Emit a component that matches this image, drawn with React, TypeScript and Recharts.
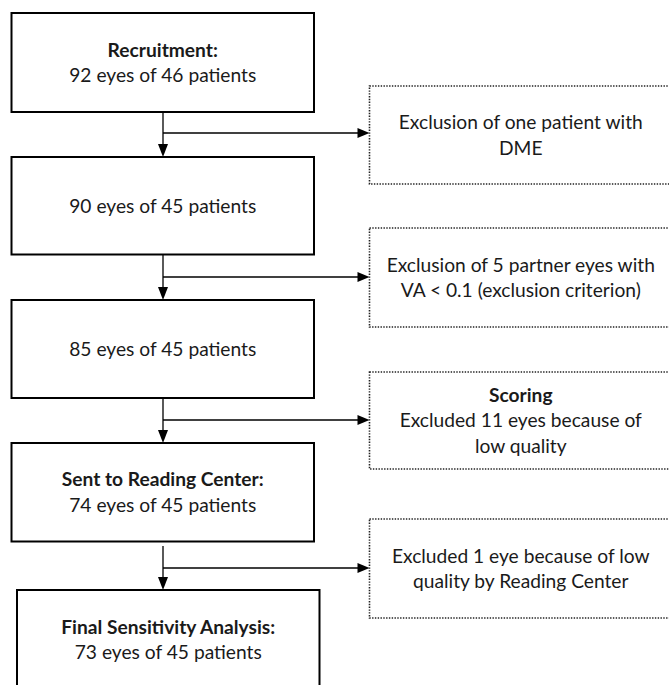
import React from 'react';
import { ComposedChart, XAxis, YAxis, ReferenceArea, ReferenceLine, Scatter } from 'recharts';

const W = 669;
const H = 685;

// Main flow stages
const stageTitles = ['Recruitment:', '', '', 'Sent to Reading Center:', 'Final Sensitivity Analysis:'];
const stageCounts = [
  '92 eyes of 46 patients',
  '90 eyes of 45 patients',
  '85 eyes of 45 patients',
  '74 eyes of 45 patients',
  '73 eyes of 45 patients',
];

// Exclusion boxes
const exclTitles = ['', '', 'Scoring', ''];
const exclLine1 = [
  'Exclusion of one patient with',
  'Exclusion of 5 partner eyes with',
  'Excluded 11 eyes because of',
  'Excluded 1 eye because of low',
];
const exclLine2 = ['DME', 'VA < 0.1 (exclusion criterion)', 'low quality', 'quality by Reading Center'];

// Layout (diagram coordinates)
const stageLeft = [11.5, 11.5, 11.5, 11.5, 17];
const stageRight = [314, 314, 314, 314, 319.5];
const stageTop = [13, 157, 300, 443, 590];
const stageBottom = [112, 254.5, 398, 541.5, 689];
const exclLeft = 369.5;
const exclRight = 672;
const exclTop = [86, 228, 372, 519];
const exclBottom = [184, 327, 469, 618];
const flowX = 163;
const flowStart = [112, 255, 398, 546];
const branchY = [133, 277, 420, 568];

const FONT = 'Lato, "Noto Sans", sans-serif';
const FS = 19.2;
const LH = 25.5;

type Line = { text: string; bold: boolean };

const BoxLabel = (props: any) => {
  const { viewBox, lines } = props;
  if (!viewBox) return null;
  const { x, y, width, height } = viewBox;
  const cx = x + width / 2;
  const cy = y + height / 2;
  const n = lines.length;
  return (
    <g>
      {lines.map((l: Line, i: number) => (
        <text
          key={i}
          x={cx}
          y={cy + (i - (n - 1) / 2) * LH + FS * 0.36}
          textAnchor="middle"
          fontFamily={FONT}
          fontSize={FS}
          fontWeight={l.bold ? 700 : 400}
          fill="#1a1a1a"
        >
          {l.text}
        </text>
      ))}
    </g>
  );
};

const downTips = stageTop.slice(1).map((t) => ({ x: flowX, y: t, dir: 'down' }));
const rightTips = branchY.map((b) => ({ x: exclLeft, y: b, dir: 'right' }));
const tips = [...downTips, ...rightTips];

const ArrowHead = (props: any) => {
  const { cx, cy, payload } = props;
  if (cx == null || cy == null) return null;
  const pts =
    payload.dir === 'down'
      ? `${cx - 5},${cy - 13} ${cx + 5},${cy - 13} ${cx},${cy}`
      : `${cx - 12},${cy - 5} ${cx - 12},${cy + 5} ${cx},${cy}`;
  return <polygon points={pts} fill="#000" />;
};

export default function App() {
  return (
    <div style={{ position: 'absolute', left: 0, top: 0, width: W, height: H, background: '#fff' }}>
      <ComposedChart width={W} height={H} margin={{ top: 0, right: 0, bottom: 0, left: 0 }} data={tips}>
        <XAxis type="number" dataKey="x" domain={[0, W]} hide allowDataOverflow />
        <YAxis type="number" dataKey="y" domain={[0, H]} reversed hide allowDataOverflow />
        {stageTitles.map((t, i) => {
          const lines: Line[] = [];
          if (t) lines.push({ text: t, bold: true });
          lines.push({ text: stageCounts[i], bold: false });
          return (
            <ReferenceArea
              key={'s' + i}
              x1={stageLeft[i]}
              x2={stageRight[i]}
              y1={stageTop[i]}
              y2={stageBottom[i]}
              ifOverflow="visible"
              fill="#fff"
              fillOpacity={1}
              stroke="#000"
              strokeWidth={2}
              label={<BoxLabel lines={lines} />}
            />
          );
        })}
        {exclTitles.map((t, i) => {
          const lines: Line[] = [];
          if (t) lines.push({ text: t, bold: true });
          lines.push({ text: exclLine1[i], bold: false });
          lines.push({ text: exclLine2[i], bold: false });
          return (
            <ReferenceArea
              key={'e' + i}
              x1={exclLeft}
              x2={exclRight}
              y1={exclTop[i]}
              y2={exclBottom[i]}
              ifOverflow="visible"
              fill="#fff"
              fillOpacity={1}
              stroke="#222"
              strokeWidth={1.6}
              strokeDasharray="1.4 1.4"
              label={<BoxLabel lines={lines} />}
            />
          );
        })}
        {flowStart.map((s, i) => (
          <ReferenceLine
            key={'v' + i}
            segment={[
              { x: flowX, y: s },
              { x: flowX, y: stageTop[i + 1] - 6 },
            ]}
            stroke="#000"
            strokeWidth={1.3}
            ifOverflow="visible"
          />
        ))}
        {branchY.map((b, i) => (
          <ReferenceLine
            key={'h' + i}
            segment={[
              { x: flowX, y: b },
              { x: exclLeft - 6, y: b },
            ]}
            stroke="#000"
            strokeWidth={1.3}
            ifOverflow="visible"
          />
        ))}
        <Scatter data={tips} dataKey="y" shape={<ArrowHead />} isAnimationActive={false} />
      </ComposedChart>
    </div>
  );
}
